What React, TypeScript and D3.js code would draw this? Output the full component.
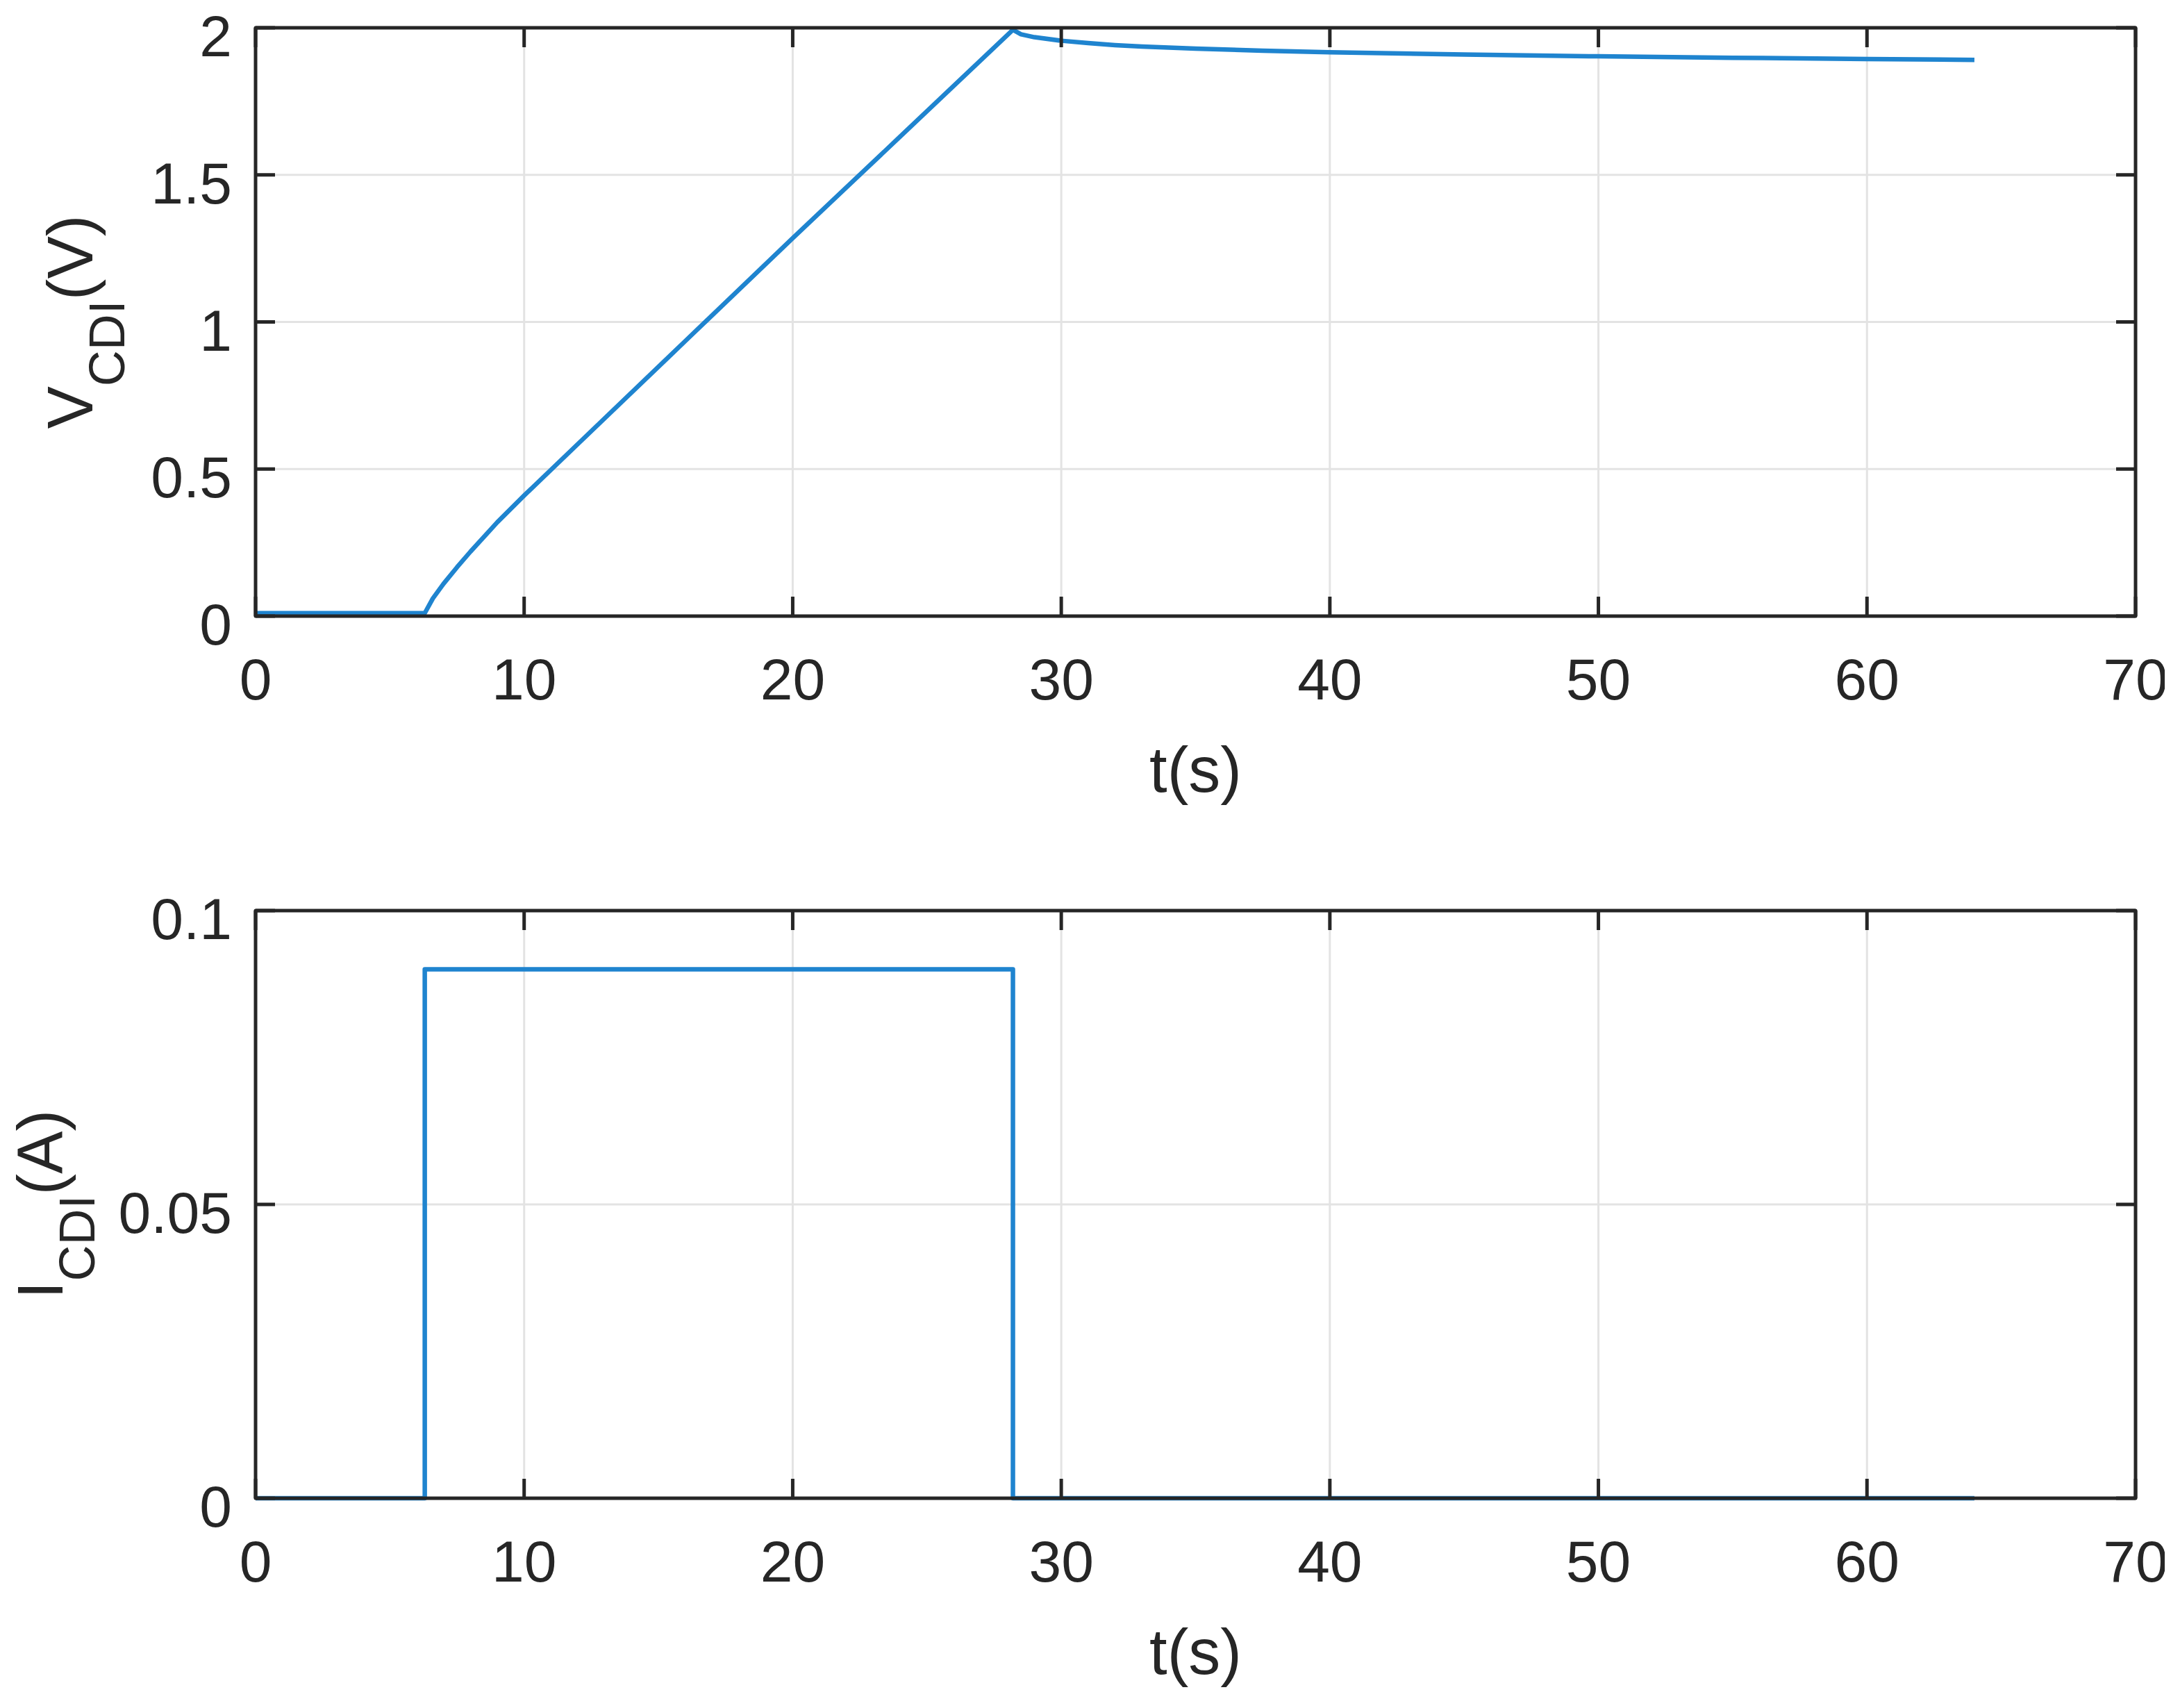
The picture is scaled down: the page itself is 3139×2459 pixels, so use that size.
import React from "react";
import * as d3 from "d3";

// ---- data ----
const timeV = [0, 6.3, 6.6, 7.0, 7.5, 8, 9, 10, 12, 16, 20, 24, 28.2, 28.5, 29, 30, 31, 32, 33, 35, 37.5, 40, 45, 50, 55, 60, 64];
const voltage = [0.01, 0.01, 0.06, 0.11, 0.166, 0.219, 0.319, 0.41, 0.585, 0.935, 1.285, 1.63, 1.993, 1.978, 1.968, 1.956, 1.948, 1.941, 1.936, 1.929, 1.922, 1.917, 1.909, 1.903, 1.898, 1.894, 1.891];

const timeI = [0, 6.3, 6.3, 28.2, 28.2, 64];
const current = [0, 0, 0.09, 0.09, 0, 0];

const xTicks = [0, 10, 20, 30, 40, 50, 60, 70];
const vTicks = [0, 0.5, 1, 1.5, 2];
const vTickLabels = ["0", "0.5", "1", "1.5", "2"];
const iTicks = [0, 0.05, 0.1];
const iTickLabels = ["0", "0.05", "0.1"];

const W = 3139;
const H = 2459;
const FONT = "'Liberation Sans', Arial, Helvetica, sans-serif";
const TXT = "#262626";
const AX = "#262626";
const GRID = "#e3e3e3";
const LINE = "#1f84cf";

type PanelProps = {
  top: number;
  bottom: number;
  xs: number[];
  ys: number[];
  yDomain: [number, number];
  yTicks: number[];
  yTickLabels: string[];
  labelMain: string;
  labelSub: string;
  labelUnit: string;
  labelX: number;
};

const LEFT = 368;
const RIGHT = 3075;

function Panel(p: PanelProps) {
  const x = d3.scaleLinear().domain([0, 70]).range([LEFT, RIGHT]);
  const y = d3.scaleLinear().domain(p.yDomain).range([p.bottom, p.top]);
  const pts = p.xs.map((t, i) => [t, p.ys[i]] as [number, number]);
  const line = d3
    .line<[number, number]>()
    .x((d) => x(d[0]))
    .y((d) => y(d[1]));
  const tl = 28;
  const cy = (p.top + p.bottom) / 2;
  return (
    <g>
      {xTicks.slice(1, -1).map((t) => (
        <line key={"gx" + t} x1={x(t)} x2={x(t)} y1={p.top} y2={p.bottom} stroke={GRID} strokeWidth={3} />
      ))}
      {p.yTicks.slice(1, -1).map((t) => (
        <line key={"gy" + t} x1={LEFT} x2={RIGHT} y1={y(t)} y2={y(t)} stroke={GRID} strokeWidth={3} />
      ))}
      <path d={line(pts) || ""} fill="none" stroke={LINE} strokeWidth={6.5} strokeLinejoin="round" />
      {xTicks.map((t) => (
        <g key={"tx" + t}>
          <line x1={x(t)} x2={x(t)} y1={p.bottom} y2={p.bottom - tl} stroke={AX} strokeWidth={5} />
          <line x1={x(t)} x2={x(t)} y1={p.top} y2={p.top + tl} stroke={AX} strokeWidth={5} />
          <text x={x(t)} y={p.bottom + 120} fontSize={84} textAnchor="middle" fill={TXT} fontFamily={FONT}>
            {t}
          </text>
        </g>
      ))}
      {p.yTicks.map((t, i) => (
        <g key={"ty" + t}>
          <line x1={LEFT} x2={LEFT + tl} y1={y(t)} y2={y(t)} stroke={AX} strokeWidth={5} />
          <line x1={RIGHT} x2={RIGHT - tl} y1={y(t)} y2={y(t)} stroke={AX} strokeWidth={5} />
          <text x={LEFT - 34} y={y(t) + 41} fontSize={84} textAnchor="end" fill={TXT} fontFamily={FONT}>
            {p.yTickLabels[i]}
          </text>
        </g>
      ))}
      <rect x={LEFT} y={p.top} width={RIGHT - LEFT} height={p.bottom - p.top} fill="none" stroke={AX} strokeWidth={5} strokeLinejoin="round" />
      <text x={(LEFT + RIGHT) / 2} y={p.bottom + 253} fontSize={92} textAnchor="middle" fill={TXT} fontFamily={FONT}>
        t(s)
      </text>
      <text transform={`translate(${p.labelX},${cy}) rotate(-90)`} fontSize={92} textAnchor="middle" fill={TXT} fontFamily={FONT}>
        <tspan>{p.labelMain}</tspan>
        <tspan fontSize={72} dy={46}>{p.labelSub}</tspan>
        <tspan dy={-46}>{p.labelUnit}</tspan>
      </text>
    </g>
  );
}

export default function App() {
  return (
    <svg width={W} height={H} viewBox={`0 0 ${W} ${H}`} style={{ position: "absolute", left: 0, top: 0, background: "#fff" }}>
      <defs>
        <clipPath id="pageClip">
          <rect x={0} y={0} width={3117} height={H} />
        </clipPath>
      </defs>
      <rect x={0} y={0} width={W} height={H} fill="#fff" />
      <g clipPath="url(#pageClip)">
        <Panel
          top={40}
          bottom={887}
          xs={timeV}
          ys={voltage}
          yDomain={[0, 2]}
          yTicks={vTicks}
          yTickLabels={vTickLabels}
          labelMain="V"
          labelSub="CDI"
          labelUnit="(V)"
          labelX={133}
        />
        <Panel
          top={1311}
          bottom={2157}
          xs={timeI}
          ys={current}
          yDomain={[0, 0.1]}
          yTicks={iTicks}
          yTickLabels={iTickLabels}
          labelMain="I"
          labelSub="CDI"
          labelUnit="(A)"
          labelX={90}
        />
      </g>
    </svg>
  );
}
